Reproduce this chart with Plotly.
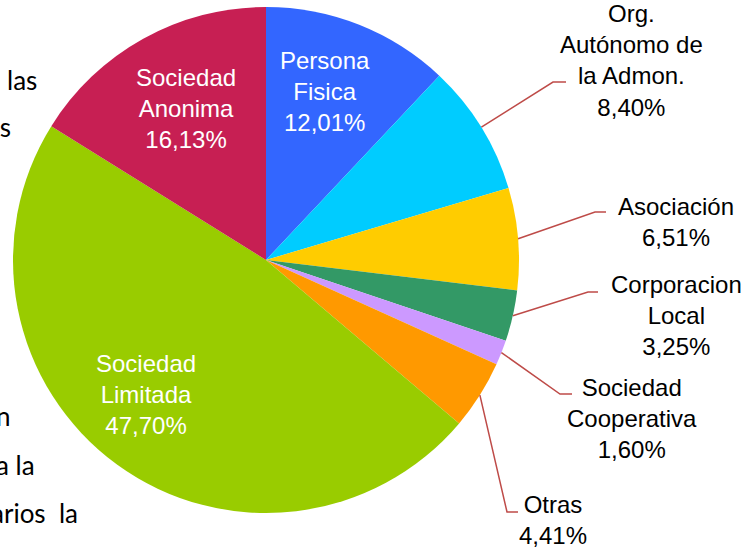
import math
import plotly.graph_objects as go

# ---- data ----
labels = ["Persona Fisica", "Org. Autónomo de la Admon.", "Asociación",
          "Corporacion Local", "Sociedad Cooperativa", "Otras",
          "Sociedad Limitada", "Sociedad Anonima"]
values = [12.01, 8.40, 6.51, 3.25, 1.60, 4.41, 47.70, 16.13]
colors = ["#3366FF", "#00CCFF", "#FFCC00", "#339966", "#CC99FF",
          "#FF9900", "#99CC00", "#C71F53"]
label_text = ["Persona<br>Fisica", "Org.<br>Autónomo de<br>la Admon.", "Asociación",
              "Corporacion<br>Local", "Sociedad<br>Cooperativa", "Otras",
              "Sociedad<br>Limitada", "Sociedad<br>Anonima"]
inside = [True, False, False, False, False, False, True, True]

W, H = 751, 547
CX, CY, R = 266, 260, 253

# label block centres (pixels) and leader elbows
label_pos = [(325, 91), (631, 60), (676, 222), (676, 315), (632, 418),
             (553, 520), (146, 394), (186, 108)]
elbows = {1: ((553, 82), (566, 82)), 2: ((595, 212), (606, 212)),
          3: ((588, 292), (598, 292)), 4: ((560, 394), (572, 394)),
          5: ((507, 512), (518, 512))}

# background page text fragments
bg_text = ["las", "es", "n", "a la", "arios\u00a0\u00a0la", "de 12,01%"]
bg_pos = [(39, 80), (13, 127), (13, 416), (37, 465), (80, 513), (145, 550)]

fig = go.Figure()
fig.add_trace(go.Pie(
    labels=labels, values=values, sort=False, direction="clockwise", rotation=0,
    marker=dict(colors=colors, line=dict(width=0)), textinfo="none",
    hoverinfo="label+percent", showlegend=False,
    domain=dict(x=[(CX - R) / W, (CX + R) / W], y=[(H - CY - R) / H, (H - CY + R) / H]),
))

annotations = []
shapes = []
for t, (x, y) in zip(bg_text, bg_pos):
    annotations.append(dict(x=x, y=y, xref="x", yref="y", text=t, showarrow=False,
                            xanchor="right", yanchor="middle",
                            font=dict(family="Lato", size=26, color="black")))

total = sum(values)
cum = 0.0
for i, v in enumerate(values):
    mid = (cum + v / 2) / total * 2 * math.pi
    cum += v
    pct = f"{v:.2f}".replace(".", ",") + "%"
    x, y = label_pos[i]
    annotations.append(dict(x=x, y=y, xref="x", yref="y", text=label_text[i] + "<br>" + pct,
                            showarrow=False, xanchor="center", yanchor="middle", align="center",
                            font=dict(family="Liberation Sans", size=24,
                                      color="white" if inside[i] else "black")))
    if i in elbows:
        sx = CX + R * math.sin(mid)
        sy = CY - R * math.cos(mid)
        (ex, ey), (hx, hy) = elbows[i]
        shapes.append(dict(type="path", xref="x", yref="y",
                           path=f"M{sx:.1f},{sy:.1f} L{ex},{ey} L{hx},{hy}",
                           line=dict(color="#BE4B48", width=1.5)))

fig.update_layout(
    width=W, height=H, margin=dict(l=0, r=0, t=0, b=0),
    paper_bgcolor="white", plot_bgcolor="rgba(0,0,0,0)",
    xaxis=dict(range=[0, W], visible=False, fixedrange=True),
    yaxis=dict(range=[H, 0], visible=False, fixedrange=True),
    annotations=annotations, shapes=shapes,
)
fig.write_html("out.html", config={"displayModeBar": False},
               post_script="document.body.style.margin='0';document.body.style.overflow='hidden';")
